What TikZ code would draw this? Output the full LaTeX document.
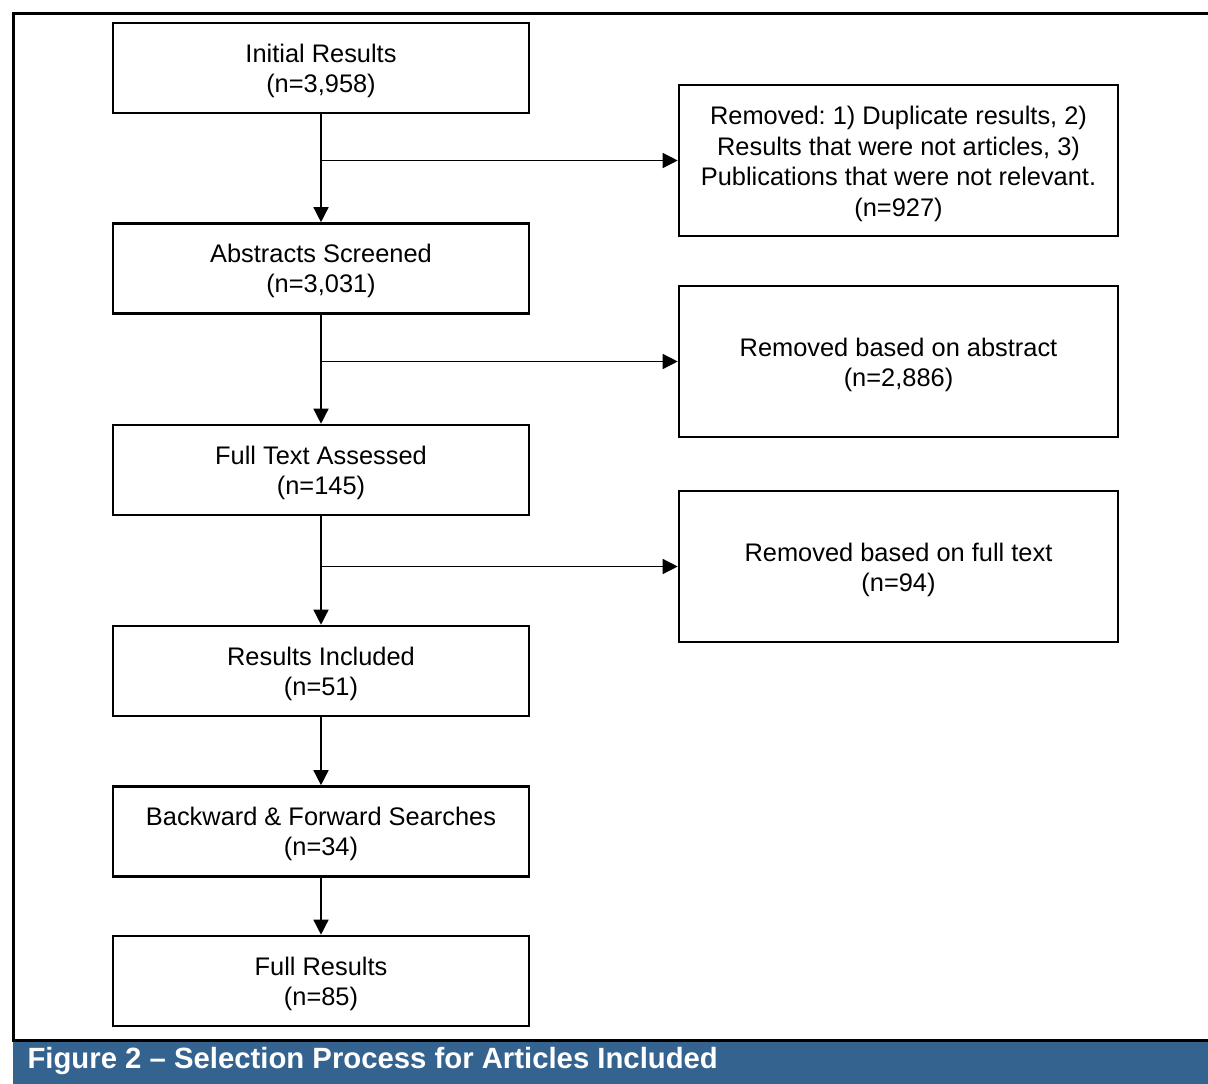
\documentclass[tikz,border=0pt]{standalone}
\usepackage{fontspec}
\setmainfont{Liberation Sans}
\usetikzlibrary{arrows.meta}
\definecolor{capblue}{RGB}{52,99,143}
\frenchspacing
\begin{document}
\begin{tikzpicture}[x=1pt,y=-1pt,
  lbox/.style={draw,line width=2.6pt,minimum width=416pt,minimum height=90pt,inner sep=0pt,
    align=center,font=\fontsize{25.4}{30}\selectfont},
  rbox/.style={draw,line width=2.6pt,minimum width=439pt,minimum height=151pt,inner sep=0pt,
    align=center,font=\fontsize{25.4}{30.6}\selectfont},
  arr/.style={line width=1.4pt,-{Triangle[length=15pt,width=15pt]}}]
\useasboundingbox (0,0) rectangle (1208,1084);
\fill[white] (0,0) rectangle (1208,1084);
% frame
\fill[capblue] (13,1041) rectangle (1208,1084);
\draw[line width=3pt] (1208,13) -- (13,13) -- (13,1040) -- (1208,1040);
\node[anchor=west,text=white,font=\fontsize{29.3}{32}\bfseries] (cap) at (24,1061) {Figure 2 – Selection Process for Articles Included};
% left boxes
\node[lbox] (b1) at (321,68) {};
\node[lbox] (b2) at (321,268.5) {};
\node[lbox] (b3) at (321,470) {};
\node[lbox] (b4) at (321,671) {};
\node[lbox] (b5) at (321,831.5) {};
\node[lbox] (b6) at (321,981) {};
\tikzset{ltext/.style={align=center,inner sep=0pt,font=\fontsize{25.4}{30}\selectfont,yshift=-2.5pt}}
\node[ltext] (t1) at (b1) {Initial Results\\(n=3,958)};
\node[ltext] (t2) at (b2) {Abstracts Screened\\(n=3,031)};
\node[ltext] (t3) at (b3) {Full Text Assessed\\(n=145)};
\node[ltext] (t4) at (b4) {Results Included\\(n=51)};
\node[ltext] (t5) at (b5) {Backward \& Forward Searches\\(n=34)};
\node[ltext] (t6) at (b6) {Full Results\\(n=85)};
% right boxes
\node[rbox] (r1) at (898.5,160.5) {};
\node[rbox] (r2) at (898.5,361.5) {};
\node[rbox] (r3) at (898.5,566.5) {};
\tikzset{rtext/.style={align=center,inner sep=0pt,font=\fontsize{25.4}{30.6}\selectfont,yshift=-3.5pt}}
\node[rtext] (s1) at (r1) {Removed: 1) Duplicate results, 2)\\Results that were not articles, 3)\\Publications that were not relevant.\\(n=927)};
\node[rtext] (s2) at (r2) {Removed based on abstract\\(n=2,886)};
\node[rtext] (s3) at (r3) {Removed based on full text\\(n=94)};
% connectors
\draw[arr] (b1.south) -- (b2.north);
\draw[arr] (b2.south) -- (b3.north);
\draw[arr] (b3.south) -- (b4.north);
\draw[arr] (b4.south) -- (b5.north);
\draw[arr] (b5.south) -- (b6.north);
\draw[arr] (b1.south |- r1.west) -- (r1.west);
\draw[arr] (b2.south |- r2.west) -- (r2.west);
\draw[arr] (b3.south |- r3.west) -- (r3.west);
\end{tikzpicture}
\end{document}
